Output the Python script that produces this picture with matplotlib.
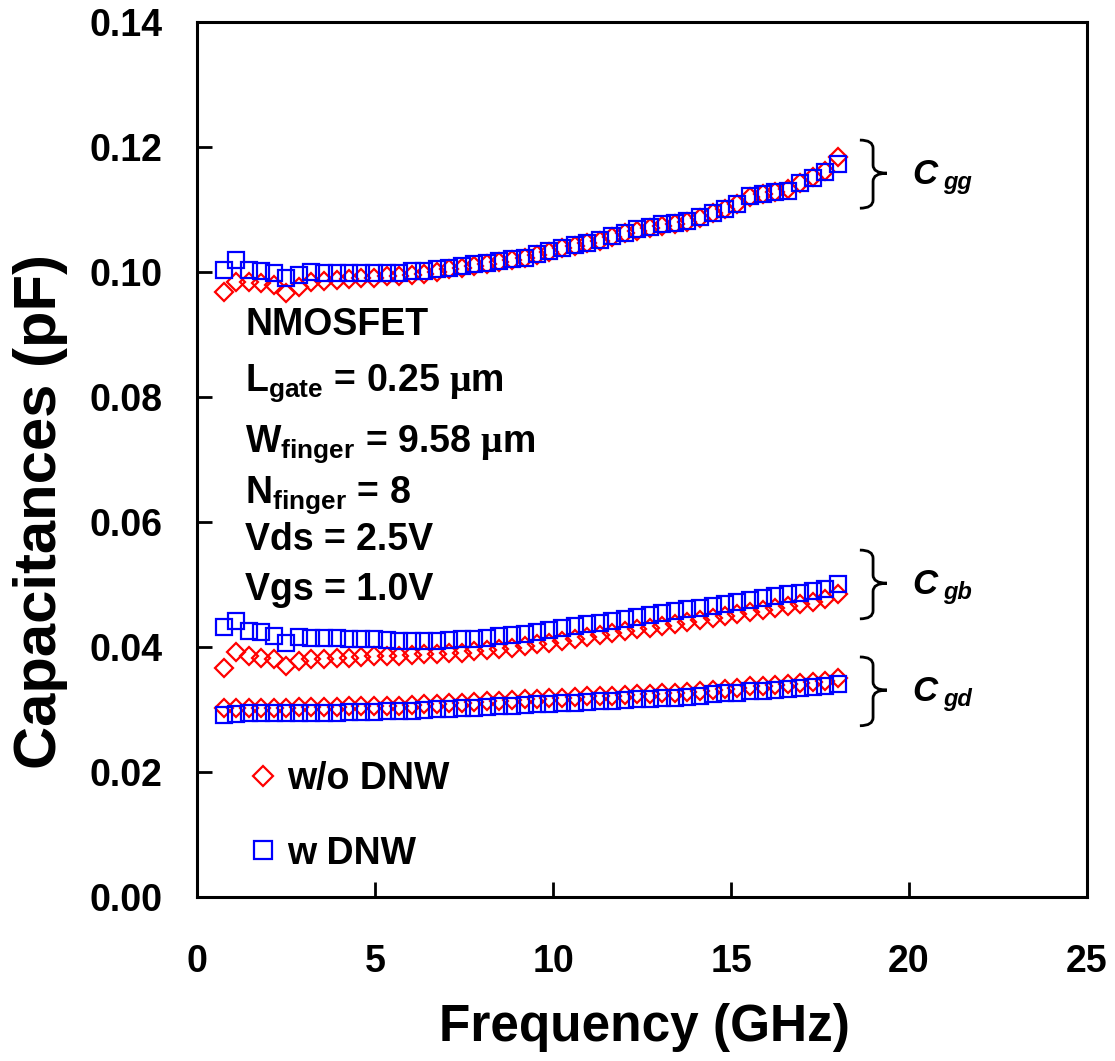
import numpy as np
import matplotlib
matplotlib.use("Agg")
import matplotlib.pyplot as plt
from matplotlib.path import Path
from matplotlib.patches import PathPatch
from matplotlib.ticker import FormatStrFormatter

plt.rcParams['font.family'] = ['Liberation Sans', 'DejaVu Sans']
plt.rcParams['font.weight'] = 'bold'
plt.rcParams['mathtext.fontset'] = 'custom'
plt.rcParams['mathtext.rm'] = 'Liberation Serif'
plt.rcParams['mathtext.bf'] = 'Liberation Sans:bold'
plt.rcParams['mathtext.it'] = 'Liberation Sans:bold:italic'

# frequence (GHz)
freq = [0.75, 1.10, 1.45, 1.81, 2.16, 2.51, 2.86, 3.21, 3.57, 3.92,
        4.27, 4.62, 4.97, 5.33, 5.68, 6.03, 6.38, 6.73, 7.09, 7.44,
        7.79, 8.14, 8.49, 8.85, 9.20, 9.55, 9.90, 10.25, 10.61, 10.96,
        11.31, 11.66, 12.01, 12.37, 12.72, 13.07, 13.42, 13.77, 14.13, 14.48,
        14.83, 15.18, 15.53, 15.89, 16.24, 16.59, 16.94, 17.29, 17.65, 18.00]

# Cgg (pF)
cgg_wo = [0.0968, 0.0984, 0.0984, 0.0983, 0.0979, 0.0967, 0.0976, 0.0984, 0.0986, 0.0987,
          0.0988, 0.0990, 0.0991, 0.0993, 0.0994, 0.0995, 0.0997, 0.1000, 0.1004, 0.1007,
          0.1010, 0.1013, 0.1016, 0.1019, 0.1022, 0.1027, 0.1032, 0.1038, 0.1042, 0.1046,
          0.1050, 0.1056, 0.1062, 0.1066, 0.1071, 0.1074, 0.1077, 0.1080, 0.1087, 0.1094,
          0.1100, 0.1108, 0.1120, 0.1124, 0.1128, 0.1132, 0.1142, 0.1152, 0.1162, 0.1184]
cgg_w = [0.1003, 0.1019, 0.1003, 0.1002, 0.0998, 0.0990, 0.0995, 0.1000, 0.0998, 0.0998,
         0.0998, 0.0998, 0.0998, 0.0999, 0.0999, 0.1001, 0.1002, 0.1004, 0.1006, 0.1009,
         0.1012, 0.1014, 0.1017, 0.1020, 0.1023, 0.1028, 0.1033, 0.1039, 0.1043, 0.1047,
         0.1051, 0.1057, 0.1063, 0.1068, 0.1072, 0.1076, 0.1078, 0.1081, 0.1088, 0.1095,
         0.1101, 0.1108, 0.1122, 0.1124, 0.1128, 0.1130, 0.1142, 0.1150, 0.1160, 0.1172]

# Cgb (pF)
cgb_wo = [0.0367, 0.0392, 0.0385, 0.0382, 0.0380, 0.0369, 0.0378, 0.0380, 0.0381, 0.0382,
          0.0383, 0.0384, 0.0385, 0.0386, 0.0386, 0.0387, 0.0388, 0.0389, 0.0390, 0.0391,
          0.0393, 0.0395, 0.0397, 0.0399, 0.0401, 0.0404, 0.0407, 0.0410, 0.0413, 0.0416,
          0.0419, 0.0422, 0.0425, 0.0428, 0.0431, 0.0434, 0.0437, 0.0440, 0.0443, 0.0446,
          0.0449, 0.0452, 0.0456, 0.0459, 0.0462, 0.0465, 0.0469, 0.0472, 0.0476, 0.0485]
cgb_w = [0.0432, 0.0442, 0.0426, 0.0424, 0.0417, 0.0407, 0.0416, 0.0414, 0.0414, 0.0414,
         0.0413, 0.0413, 0.0412, 0.0411, 0.0410, 0.0409, 0.0409, 0.0410, 0.0411, 0.0412,
         0.0413, 0.0415, 0.0417, 0.0419, 0.0421, 0.0424, 0.0427, 0.0430, 0.0433, 0.0436,
         0.0439, 0.0442, 0.0445, 0.0448, 0.0451, 0.0454, 0.0457, 0.0460, 0.0463, 0.0466,
         0.0469, 0.0472, 0.0475, 0.0478, 0.0481, 0.0484, 0.0487, 0.0490, 0.0492, 0.0500]

# Cgd (pF)
cgd_wo = [0.0302, 0.0303, 0.0303, 0.0303, 0.0303, 0.0303, 0.0304, 0.0304, 0.0304, 0.0304,
          0.0305, 0.0305, 0.0305, 0.0306, 0.0306, 0.0307, 0.0308, 0.0309, 0.0310, 0.0311,
          0.0312, 0.0313, 0.0314, 0.0315, 0.0316, 0.0317, 0.0318, 0.0319, 0.0320, 0.0321,
          0.0322, 0.0322, 0.0323, 0.0324, 0.0325, 0.0326, 0.0327, 0.0328, 0.0329, 0.0331,
          0.0333, 0.0335, 0.0337, 0.0338, 0.0339, 0.0341, 0.0342, 0.0344, 0.0346, 0.0351]
cgd_w = [0.0291, 0.0293, 0.0294, 0.0294, 0.0294, 0.0294, 0.0295, 0.0295, 0.0295, 0.0295,
         0.0296, 0.0296, 0.0296, 0.0297, 0.0297, 0.0298, 0.0299, 0.0300, 0.0301, 0.0302,
         0.0303, 0.0304, 0.0305, 0.0306, 0.0307, 0.0308, 0.0309, 0.0310, 0.0311, 0.0312,
         0.0313, 0.0314, 0.0315, 0.0316, 0.0317, 0.0318, 0.0319, 0.0320, 0.0322, 0.0324,
         0.0326, 0.0327, 0.0329, 0.0330, 0.0331, 0.0332, 0.0334, 0.0336, 0.0338, 0.0341]

x_ticks = [0, 5, 10, 15, 20, 25]
y_ticks = [0.00, 0.02, 0.04, 0.06, 0.08, 0.10, 0.12, 0.14]

# accolades : (haut, bas, centre) en pF, et nom de la capacite
braces = [(0.1211, 0.1102, 0.1158, 'gg'),
          (0.0555, 0.0445, 0.0502, 'gb'),
          (0.0384, 0.0274, 0.0331, 'gd')]

info_lines = ['NMOSFET',
              r'L$_{\mathbf{gate}}$ = 0.25 $\mathrm{μ}$m',
              r'W$_{\mathbf{finger}}$ = 9.58 $\mathrm{μ}$m',
              r'N$_{\mathbf{finger}}$ = 8',
              'Vds = 2.5V',
              'Vgs = 1.0V']

fig = plt.figure(figsize=(11.15, 10.61), dpi=100)
ax = fig.add_axes([0.1767, 0.1546, 0.7982, 0.8247])

red_kw = dict(ls='none', marker='D', ms=9.4, mfc='none', mec='#ff0000', mew=1.6)
blue_kw = dict(ls='none', marker='s', ms=12, mfc='none', mec='#0000ff', mew=1.6)

ax.plot(freq, cgg_wo, label='w/o DNW', **red_kw)
ax.plot(freq, cgb_wo, **red_kw)
ax.plot(freq, cgd_wo, **red_kw)
ax.plot(freq, cgg_w, label='w DNW', **blue_kw)
ax.plot(freq, cgb_w, **blue_kw)
ax.plot(freq, cgd_w, **blue_kw)

ax.set_xlim(0, 25)
ax.set_ylim(0, 0.14)
ax.set_xticks(x_ticks)
ax.set_yticks(y_ticks)
ax.yaxis.set_major_formatter(FormatStrFormatter('%.2f'))
ax.tick_params(direction='in', length=11, width=2, labelsize=27)
ax.tick_params(axis='y', pad=25)
ax.tick_params(axis='x', pad=34)
for s in ax.spines.values():
    s.set_linewidth(2.2)

ax.set_xlabel('Frequency (GHz)', fontsize=37, fontweight='bold')
ax.set_ylabel('Capacitances (pF)', fontsize=43, fontweight='bold')
ax.xaxis.set_label_coords(0.503, -0.121)
ax.yaxis.set_label_coords(-0.145, 0.44)

# bloc de texte
info_y = [0.642, 0.579, 0.509, 0.451, 0.397, 0.339]
for txt, yy in zip(info_lines, info_y):
    ax.text(0.054, yy, txt, transform=ax.transAxes, fontsize=27,
            fontweight='bold', va='baseline', ha='left')

# accolades + labels
xl, xm, xt = 18.62, 18.99, 19.38
r = 0.0013
for top, bot, mid, sub in braces:
    verts = [(xl, top), (xm, top), (xm, top - r),
             (xm, mid + r), (xm, mid), (xt, mid),
             (xm, mid), (xm, mid - r),
             (xm, bot + r), (xm, bot), (xl, bot)]
    codes = [Path.MOVETO, Path.CURVE3, Path.CURVE3,
             Path.LINETO, Path.CURVE3, Path.CURVE3,
             Path.CURVE3, Path.CURVE3,
             Path.LINETO, Path.CURVE3, Path.CURVE3]
    ax.add_patch(PathPatch(Path(verts, codes), fill=False, lw=2, ec='black'))
    ax.text(20.1, mid - 0.0018, 'C', fontsize=25, fontweight='bold',
            style='italic', va='baseline', ha='left')
    ax.text(20.95, mid - 0.0026, sub, fontsize=17, fontweight='bold',
            style='italic', va='baseline', ha='left')

leg = ax.legend(loc='lower left', bbox_to_anchor=(0.053, 0.029), frameon=False,
                prop={'weight': 'bold', 'size': 27}, handlelength=1.0,
                handletextpad=0.15, labelspacing=1.02, borderpad=0,
                borderaxespad=0, markerscale=1.05)

fig.savefig('out.png', dpi=100)
